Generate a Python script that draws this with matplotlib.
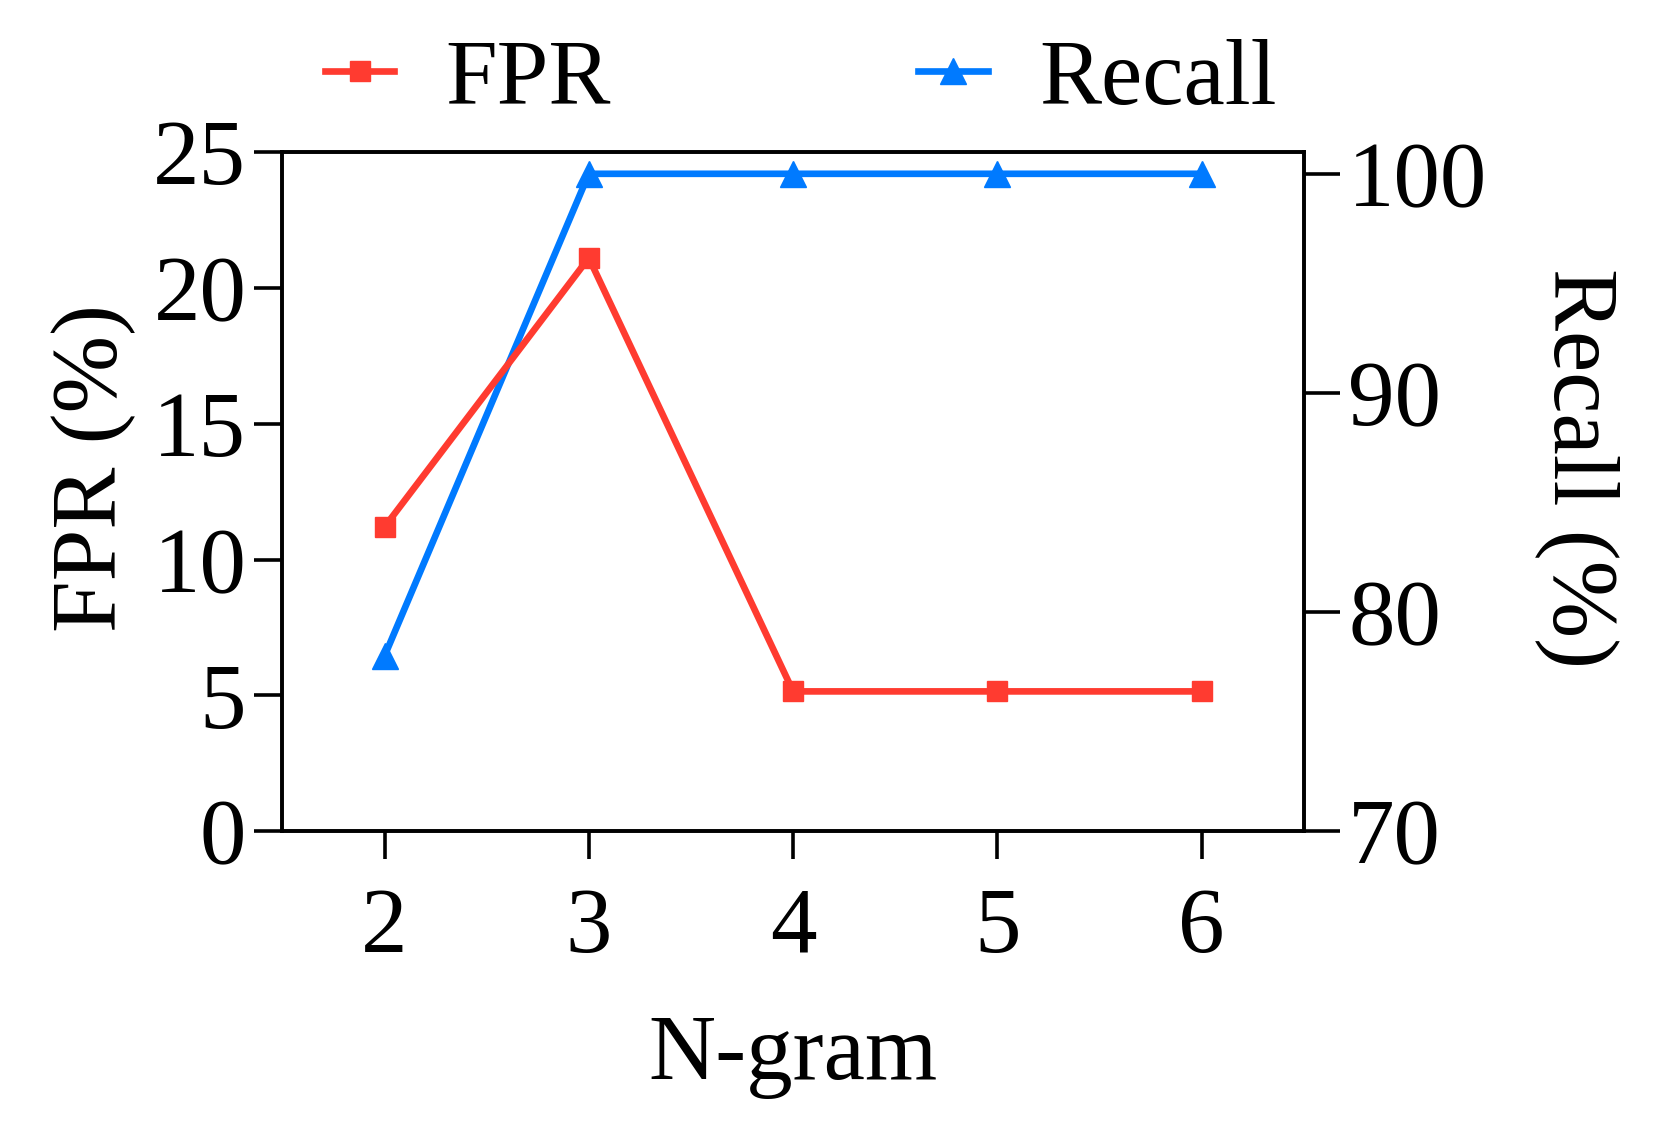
import matplotlib
matplotlib.use("Agg")
import matplotlib.pyplot as plt

# --- data ---
ngram = [2, 3, 4, 5, 6]
fpr = [11.2, 21.1, 5.15, 5.15, 5.15]
recall = [78.0, 100.0, 100.0, 100.0, 100.0]

fpr_ticks = [0, 5, 10, 15, 20, 25]
recall_ticks = [70, 80, 90, 100]

RED = "#FF3B30"
BLUE = "#007AFF"
FS = 67

plt.rcParams['font.family'] = ['Liberation Serif', 'DejaVu Serif']
plt.rcParams['font.size'] = FS

fig, ax = plt.subplots(figsize=(16.61, 11.25), dpi=100)
fig.subplots_adjust(left=0.170, right=0.785, top=0.865, bottom=0.261)
ax2 = ax.twinx()

l1, = ax.plot(ngram, fpr, color=RED, lw=4.8, marker='s', markersize=15,
              label='FPR')
l2, = ax2.plot(ngram, recall, color=BLUE, lw=4.8, marker='^', markersize=19,
               label='Recall')

# red line sits on top of the blue one
ax.set_zorder(ax2.get_zorder() + 1)
ax.patch.set_visible(False)

ax.set_xlim(1.5, 6.5)
ax.set_ylim(0, 25)
ax2.set_ylim(70, 101)
ax.set_xticks(ngram)
ax.set_yticks(fpr_ticks)
ax2.set_yticks(recall_ticks)

for s in ax.spines.values():
    s.set_linewidth(2.6)
for s in ax2.spines.values():
    s.set_linewidth(2.6)

ax.tick_params(axis='x', direction='out', length=20, width=2.6, pad=20,
               labelsize=FS)
ax.tick_params(axis='y', direction='out', length=20, width=2.6, pad=6,
               labelsize=FS)
ax2.tick_params(axis='y', direction='out', length=26, width=2.6, pad=6,
                labelsize=FS)

ax.set_xlabel('N-gram', fontsize=FS, labelpad=30)
ax.set_ylabel('FPR (%)', fontsize=FS, labelpad=12)
ax2.set_ylabel('Recall (%)', fontsize=FS, rotation=270, labelpad=95)
# labels sit a little above the middle in the original
ax.yaxis.label.set_y(0.535)
ax2.yaxis.label.set_y(0.535)

fig.legend(handles=[l1, l2], loc='center', bbox_to_anchor=(0.482, 0.928),
           ncol=2, frameon=False, fontsize=FS, handlelength=0.75,
           handletextpad=0.55, columnspacing=3.3)

fig.savefig('out.png', dpi=100)
